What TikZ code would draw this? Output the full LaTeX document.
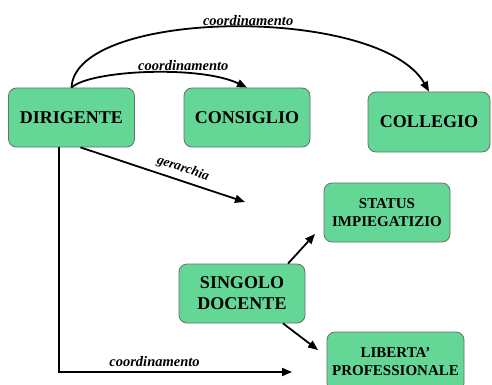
\documentclass[tikz,border=0pt]{standalone}
\usepackage{fontspec}
\setmainfont{Liberation Serif}
\usetikzlibrary{arrows.meta,positioning}
\definecolor{boxgreen}{RGB}{100,214,150}
\definecolor{boxline}{RGB}{100,112,104}

\begin{document}
\begin{tikzpicture}[
    % GLOBAL CFG
    x=1pt, y=-1pt,
    >={Triangle[length=10pt,width=8pt]},
    % Styles
    ente/.style={% For the green boxes
        rectangle,
        rounded corners=8pt,
        draw=boxline,
        fill=boxgreen,
        line width=0.8pt,
        minimum width=126pt,
        minimum height=59pt,
        align=center,
        font=\fontsize{18}{21}\selectfont\bfseries,
        },
    ruolo/.style={% Two-line boxes with smaller text
        ente,
        font=\fontsize{15}{18}\selectfont\bfseries,
        },
    rel/.style={% Labels of the relations
        font=\fontsize{14.5}{16}\selectfont\bfseries\itshape,
        inner sep=1pt,
        },
    Arrow/.style={% Connectors
        line width=1.8pt,
        },
    ]

    \useasboundingbox (0,0) rectangle (492,385);

    % Draw the boxes
    \node [ente] (dir) at (71.5,117.5) {DIRIGENTE};
    \node [ente] (cons) at (247,117.5) {CONSIGLIO};
    \node [ente, minimum width=122pt, minimum height=60pt] (coll) at (429,122) {COLLEGIO};
    \node [ruolo] (stat) at (387,212.5) {STATUS\\IMPIEGATIZIO};
    \node [ente] (doc) at (242,293.5) {SINGOLO\\DOCENTE};
    \node [ruolo, minimum width=137pt] (lib) at (395.5,361.5) {LIBERTA’\\PROFESSIONALE};

    % Free ends of the arrows
    \coordinate (gEnd) at (245,202);
    \coordinate (sEnd) at (315,234);
    \coordinate (lEnd) at (318,350);
    \coordinate (cEnd) at (292,372);

% Start connecting all.
    % Coordination arcs
    \draw [->, Arrow] (dir.north) .. controls (75,8) and (380,5) .. (coll.north)
        node [rel, pos=0.53, above] {coordinamento};
    \draw [->, Arrow] (dir.north) .. controls (90,70) and (200,65) .. (cons.north)
        node [rel, pos=0.66, above=1pt] {coordinamento};

    % Hierarchy
    \draw [->, Arrow] ([xshift=9pt]dir.south) -- (gEnd)
        node [rel, pos=0.6, above=4pt, sloped, font=\fontsize{13.5}{15}\selectfont\bfseries\itshape] {gerarchia};

    % Teacher
    \draw [->, Arrow] ([xshift=46pt]doc.north) -- (sEnd);
    \draw [->, Arrow] ([xshift=41pt]doc.south) -- (lEnd);

    % Bottom coordination
    \draw [->, Arrow] ([xshift=-12.5pt]dir.south) |- (cEnd)
        node [rel, pos=0.705, above=3pt] {coordinamento};

\end{tikzpicture}
\end{document}
